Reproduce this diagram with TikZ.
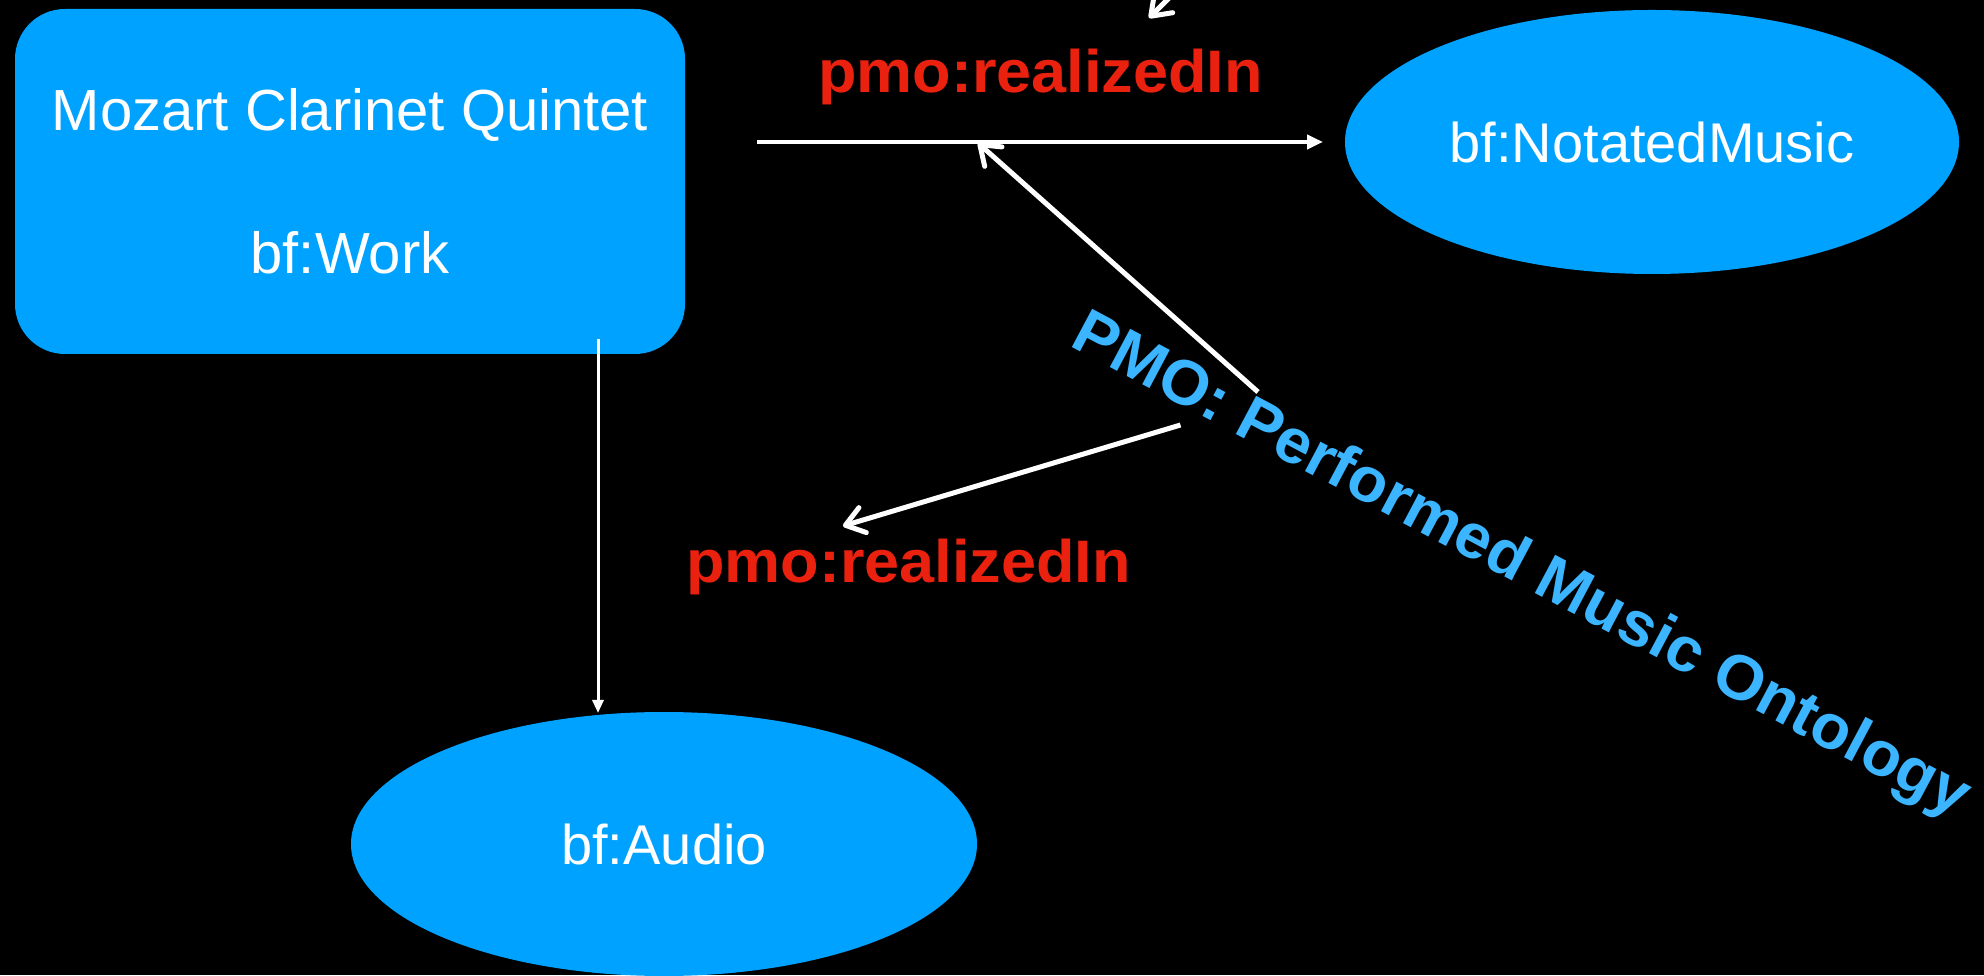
\documentclass[tikz,border=0pt]{standalone}
\usepackage{fontspec}
\setmainfont{Liberation Sans}
\usetikzlibrary{arrows.meta,shapes.geometric}
\definecolor{boxblue}{RGB}{0,162,255}
\definecolor{pmoblue}{RGB}{59,181,255}
\definecolor{relred}{RGB}{234,33,15}
\begin{document}
\begin{tikzpicture}[x=1pt,y=1pt,
  blob/.style={ellipse, fill=boxblue, draw=none, text=white, inner sep=0pt,
    font=\fontsize{56}{60}\selectfont},
  workbox/.style={rectangle, rounded corners=50pt, fill=boxblue, draw=none, text=white,
    inner sep=0pt, align=center, font=\fontsize{58}{143.5}\selectfont},
  rel/.style={text=relred, inner sep=0pt, anchor=base, font=\bfseries\fontsize{60}{64}\selectfont},
  fillarrow/.style={draw=white, line width=4pt, -{Triangle[length=16pt,width=14pt]}},
  thinarrow/.style={draw=white, line width=3pt, -{Triangle[length=13pt,width=11pt]}},
  openarrow/.style={draw=white, line width=5pt, -{Straight Barb[length=18pt,width=26pt,round]}},
]
\fill[black] (0,0) rectangle (1984,975);
\useasboundingbox (0,0) rectangle (1984,975);
\clip (0,0) rectangle (1984,975);

% nodes
\node[workbox, minimum width=670pt, minimum height=345pt] (work) at (350,793.5)
  {Mozart Clarinet Quintet\\bf:Work};
\node[blob, minimum width=614pt, minimum height=264pt] (nm) at (1652,833) {bf:NotatedMusic};
\node[blob, minimum width=626pt, minimum height=264pt] (au) at (664,131) {bf:Audio};

\node[rel] (l1) at (1040.5,882) {\scalebox{1.05}[1]{pmo:realizedIn}};
\node[rel] (l2) at (908.5,392) {\scalebox{1.05}[1]{pmo:realizedIn}};

\node[rotate=-28, anchor=base west, inner sep=0pt, text=pmoblue,
  font=\bfseries\fontsize{63}{66}\selectfont] (pmo) at (1068,630)
  {\scalebox{1.02}[1]{PMO: Performed Music Ontology}};

% connector end points
\coordinate (a1s) at (757,833);
\coordinate (a1e) at (1323,833);
\coordinate (a2s) at (598,636);
\coordinate (a2e) at (598,262);
\coordinate (a3s) at (1258,583);
\coordinate (a3e) at (978,832);
\coordinate (a4s) at (1180.5,550);
\coordinate (a4e) at (843,449);
\coordinate (a5s) at (1182,990);
\coordinate (a5e) at (1149,957);

% connectors
\draw[fillarrow] (a1s) -- (a1e);
\draw[thinarrow] (a2s) -- (a2e);
\draw[openarrow] (a3s) -- (a3e);
\draw[openarrow] (a4s) -- (a4e);
\draw[openarrow] (a5s) -- (a5e);
\end{tikzpicture}
\end{document}
